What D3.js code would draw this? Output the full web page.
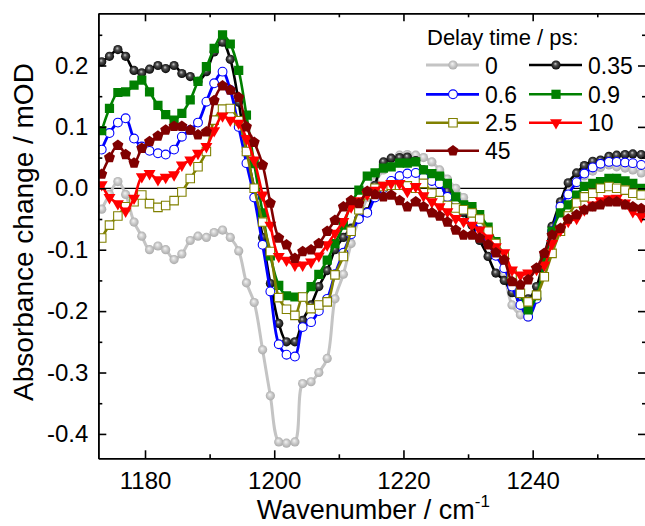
<!DOCTYPE html>
<html>
<head>
<meta charset="utf-8">
<script src="https://cdn.jsdelivr.net/npm/d3@7"></script>
<style>
  body { margin: 0; background: #fff; }
  text { font-family: Arial, "Liberation Sans", sans-serif; fill: #000; }
</style>
</head>
<body>
<div id="chart"></div>
<script>
// wavenumber grid (cm-1)
var wavenumber = [1173.3, 1174.5, 1175.8, 1177.0, 1178.3, 1179.5, 1180.7, 1182.0, 1183.2, 1184.5,
  1185.7, 1187.0, 1188.2, 1189.5, 1190.7, 1192.0, 1193.2, 1194.5, 1195.7, 1196.9,
  1198.2, 1199.4, 1200.7, 1201.9, 1203.2, 1204.4, 1205.7, 1206.9, 1208.2, 1209.4,
  1210.7, 1211.9, 1213.1, 1214.4, 1215.6, 1216.9, 1218.1, 1219.4, 1220.6, 1221.9,
  1223.1, 1224.4, 1225.6, 1226.8, 1228.1, 1229.3, 1230.6, 1231.8, 1233.1, 1234.3,
  1235.6, 1236.8, 1238.1, 1239.3, 1240.6, 1241.8, 1243.0, 1244.3, 1245.5, 1246.8,
  1248.0, 1249.3, 1250.5, 1251.8, 1253.0, 1254.3, 1255.5, 1256.8];

// absorbance change (mOD) per delay time
var d0 = [-0.034, -0.01, 0.011, -0.01, -0.055, -0.078, -0.1, -0.094, -0.1, -0.116,
  -0.107, -0.085, -0.078, -0.08, -0.072, -0.068, -0.08, -0.102, -0.154, -0.186,
  -0.263, -0.338, -0.413, -0.415, -0.413, -0.318, -0.315, -0.3, -0.277, -0.18,
  -0.14, -0.09, -0.05, -0.015, 0.01, 0.03, 0.045, 0.054, 0.055, 0.054,
  0.05, 0.043, 0.03, 0.015, 0.0, -0.015, -0.03, -0.05, -0.075, -0.1,
  -0.14, -0.19, -0.206, -0.21, -0.18, -0.12, -0.07, -0.03, -0.005, 0.01,
  0.02, 0.028, 0.034, 0.038, 0.035, 0.033, 0.03, 0.025];
var d035 = [0.206, 0.215, 0.226, 0.215, 0.192, 0.188, 0.194, 0.2, 0.195, 0.2,
  0.187, 0.182, 0.174, 0.19, 0.222, 0.238, 0.21, 0.14, 0.06, 0.0,
  -0.08, -0.155, -0.22, -0.25, -0.25, -0.215, -0.19, -0.16, -0.134, -0.1,
  -0.08, -0.065, -0.05, -0.038, 0.005, 0.043, 0.049, 0.05, 0.051, 0.045,
  0.03, 0.02, 0.01, -0.005, -0.02, -0.04, -0.06, -0.085, -0.111, -0.138,
  -0.15, -0.17, -0.18, -0.18, -0.16, -0.11, -0.062, -0.022, 0.009, 0.025,
  0.037, 0.044, 0.046, 0.052, 0.054, 0.055, 0.056, 0.055];
var d06 = [0.063, 0.09, 0.107, 0.114, 0.081, 0.068, 0.061, 0.057, 0.055, 0.063,
  0.084, 0.095, 0.107, 0.141, 0.171, 0.19, 0.16, 0.1, 0.041, -0.015,
  -0.092, -0.168, -0.254, -0.271, -0.274, -0.226, -0.218, -0.2, -0.18, -0.14,
  -0.105, -0.075, -0.05, -0.04, -0.015, 0.0, 0.012, 0.02, 0.024, 0.025,
  0.018, 0.012, 0.008, -0.014, -0.02, -0.035, -0.05, -0.07, -0.09, -0.11,
  -0.13, -0.16, -0.19, -0.209, -0.18, -0.12, -0.07, -0.03, -0.01, 0.01,
  0.024, 0.034, 0.04, 0.043, 0.043, 0.042, 0.041, 0.038];
var d09 = [0.094, 0.13, 0.156, 0.157, 0.168, 0.176, 0.157, 0.135, 0.12, 0.111,
  0.122, 0.144, 0.174, 0.198, 0.228, 0.25, 0.235, 0.192, 0.119, 0.04,
  -0.04, -0.11, -0.158, -0.175, -0.177, -0.177, -0.16, -0.14, -0.117, -0.09,
  -0.06, -0.025, -0.003, 0.02, 0.025, 0.033, 0.035, 0.041, 0.041, 0.043,
  0.03, 0.024, 0.02, 0.008, -0.014, -0.027, -0.03, -0.043, -0.063, -0.087,
  -0.11, -0.14, -0.171, -0.198, -0.175, -0.12, -0.07, -0.04, -0.027, -0.011,
  0.003, 0.008, 0.011, 0.016, 0.016, 0.012, 0.008, 0.0];
var d25 = [-0.081, -0.06, -0.045, -0.03, -0.022, -0.011, -0.025, -0.031, -0.028, -0.02,
  -0.006, 0.016, 0.035, 0.06, 0.111, 0.129, 0.13, 0.11, 0.06, 0.0,
  -0.055, -0.103, -0.178, -0.197, -0.207, -0.177, -0.196, -0.19, -0.185, -0.141,
  -0.111, -0.07, -0.035, -0.01, 0.0, 0.003, 0.005, 0.005, 0.004, 0.0,
  0.008, -0.008, -0.02, -0.028, -0.032, -0.035, -0.04, -0.05, -0.07, -0.09,
  -0.11, -0.14, -0.171, -0.185, -0.174, -0.144, -0.106, -0.07, -0.045, -0.024,
  -0.014, -0.008, 0.0, 0.003, 0.0, -0.003, -0.008, -0.011];
var d10 = [0.006, -0.015, -0.025, -0.037, -0.016, 0.019, 0.024, 0.014, 0.018, 0.022,
  0.038, 0.046, 0.057, 0.068, 0.094, 0.118, 0.111, 0.106, 0.081, 0.046,
  -0.011, -0.06, -0.111, -0.117, -0.125, -0.125, -0.12, -0.11, -0.092, -0.073,
  -0.054, -0.03, -0.02, -0.01, -0.003, 0.005, 0.008, 0.008, -0.005, 0.003,
  -0.012, -0.022, -0.03, -0.038, -0.049, -0.054, -0.06, -0.068, -0.081, -0.095,
  -0.105, -0.133, -0.141, -0.138, -0.132, -0.125, -0.09, -0.068, -0.054, -0.049,
  -0.035, -0.027, -0.02, -0.017, -0.016, -0.024, -0.038, -0.046];
var d45 = [0.023, 0.05, 0.07, 0.055, 0.041, 0.065, 0.076, 0.085, 0.095, 0.101,
  0.101, 0.095, 0.087, 0.092, 0.143, 0.167, 0.16, 0.148, 0.1, 0.075,
  0.038, -0.024, -0.081, -0.092, -0.114, -0.103, -0.1, -0.09, -0.07, -0.052,
  -0.03, -0.02, -0.025, -0.005, -0.01, -0.014, -0.011, -0.02, -0.03, -0.022,
  -0.03, -0.04, -0.045, -0.055, -0.068, -0.076, -0.076, -0.081, -0.092, -0.105,
  -0.117, -0.152, -0.157, -0.149, -0.13, -0.106, -0.076, -0.065, -0.05, -0.043,
  -0.035, -0.03, -0.027, -0.022, -0.022, -0.027, -0.03, -0.033];

var delayLabels = ["0", "0.35", "0.6", "0.9", "2.5", "10", "45"];
var xTicks = [1180, 1200, 1220, 1240];
var xMinorTicks = [1190, 1210, 1230, 1250];
var yTicks = [-0.4, -0.3, -0.2, -0.1, 0.0, 0.1, 0.2];
var yMinorTicks = [-0.35, -0.25, -0.15, -0.05, 0.05, 0.15, 0.25];

// plot styles, in legend order
var series = [
  {label: delayLabels[0], values: d0,   color: "#c4c4c4", marker: "ballGray", width: 3},
  {label: delayLabels[1], values: d035, color: "#000000", marker: "ballBlack", width: 2.6},
  {label: delayLabels[2], values: d06,  color: "#0000ff", marker: "openCircle", width: 2.8},
  {label: delayLabels[3], values: d09,  color: "#008000", marker: "square", width: 2.6},
  {label: delayLabels[4], values: d25,  color: "#808000", marker: "openSquare", width: 2.6},
  {label: delayLabels[5], values: d10,  color: "#ff0000", marker: "triangleDown", width: 2.6},
  {label: delayLabels[6], values: d45,  color: "#800000", marker: "pentagon", width: 2.6}
];

var W = 645, H = 526;
var margin = {top: 13.3, right: -1, bottom: 67.7, left: 98.3},
    width = W - margin.left - margin.right,
    height = H - margin.top - margin.bottom;

var x = d3.scaleLinear().domain([1172.77, 1257.54]).range([0, width]);
var y = d3.scaleLinear().domain([-0.4397, 0.285]).range([height, 0]);

var svg = d3.select("#chart").append("svg")
    .attr("width", W)
    .attr("height", H);

var defs = svg.append("defs");
defs.append("clipPath").attr("id", "plotClip")
  .append("rect").attr("x", 0).attr("y", 0).attr("width", width).attr("height", height);

function ballGradient(id, stops) {
  var g = defs.append("radialGradient").attr("id", id)
    .attr("cx", "50%").attr("cy", "50%").attr("r", "55%")
    .attr("fx", "42%").attr("fy", "35%");
  stops.forEach(function(s) {
    g.append("stop").attr("offset", s[0]).attr("stop-color", s[1]);
  });
}
ballGradient("gradGray", [["0%", "#f4f4f4"], ["55%", "#c6c6c6"], ["100%", "#a6a6a6"]]);
ballGradient("gradBlack", [["0%", "#d0d0d0"], ["35%", "#505050"], ["100%", "#000000"]]);

// pentagon symbol (size = area-ish)
var symbolPentagon = {
  draw: function(ctx, size) {
    var r = Math.sqrt(size / 2.378);
    for (var i = 0; i < 5; i++) {
      var a = -Math.PI / 2 + i * 2 * Math.PI / 5;
      if (i === 0) ctx.moveTo(r * Math.cos(a), r * Math.sin(a));
      else ctx.lineTo(r * Math.cos(a), r * Math.sin(a));
    }
    ctx.closePath();
  }
};

function drawMarker(sel, type, color) {
  if (type === "ballGray" || type === "ballBlack") {
    sel.append("circle").attr("r", 4.6)
      .attr("fill", type === "ballGray" ? "url(#gradGray)" : "url(#gradBlack)");
  } else if (type === "openCircle") {
    sel.append("circle").attr("r", 4.4)
      .attr("fill", "#fff").attr("stroke", color).attr("stroke-width", 1.1);
  } else if (type === "square") {
    sel.append("path").attr("d", d3.symbol().type(d3.symbolSquare).size(85)())
      .attr("fill", color);
  } else if (type === "openSquare") {
    sel.append("path").attr("d", d3.symbol().type(d3.symbolSquare).size(72)())
      .attr("fill", "#fff").attr("stroke", color).attr("stroke-width", 1.1);
  } else if (type === "triangleDown") {
    sel.append("path").attr("d", d3.symbol().type(d3.symbolTriangle).size(62)())
      .attr("transform", "rotate(180)")
      .attr("fill", color);
  } else if (type === "pentagon") {
    sel.append("path").attr("d", d3.symbol().type(symbolPentagon).size(80)())
      .attr("fill", color);
  }
}

var g = svg.append("g")
    .attr("transform", "translate(" + margin.left + "," + margin.top + ")");

// zero line
g.append("line")
  .attr("x1", 0).attr("x2", width)
  .attr("y1", y(0)).attr("y2", y(0))
  .attr("stroke", "#000").attr("stroke-width", 1.2);

var plot = g.append("g").attr("clip-path", "url(#plotClip)");

var line = d3.line()
  .x(function(d) { return x(d[0]); })
  .y(function(d) { return y(d[1]); })
  .curve(d3.curveCatmullRom.alpha(0.5));

series.forEach(function(s) {
  var pts = wavenumber.map(function(w, i) { return [w, s.values[i]]; });
  plot.append("path")
    .datum(pts)
    .attr("d", line)
    .attr("fill", "none")
    .attr("stroke", s.color)
    .attr("stroke-width", s.width)
    .attr("stroke-linejoin", "round");
  var m = plot.append("g").selectAll("g")
    .data(pts)
    .enter().append("g")
      .attr("transform", function(d) { return "translate(" + x(d[0]) + "," + y(d[1]) + ")"; });
  drawMarker(m, s.marker, s.color);
});

// axes
var fmt = function(d) { return d3.format(".1f")(d).replace("\u2212", "-"); };

function styleAxis(sel) {
  sel.selectAll("path").attr("stroke", "#000").attr("stroke-width", 1.6);
  sel.selectAll("line").attr("stroke", "#000").attr("stroke-width", 1.6);
  sel.selectAll("text").attr("font-size", 24).attr("fill", "#000")
    .attr("font-family", "Arial, 'Liberation Sans', sans-serif");
}

g.append("g")
  .attr("transform", "translate(0," + height + ")")
  .call(d3.axisBottom(x).tickValues(xTicks).tickSizeInner(-8).tickSizeOuter(0).tickPadding(14).tickFormat(d3.format("d")))
  .call(styleAxis);
g.append("g")
  .attr("transform", "translate(0," + height + ")")
  .call(d3.axisBottom(x).tickValues(xMinorTicks).tickSizeInner(-4).tickSizeOuter(0).tickFormat(""))
  .call(styleAxis);
g.append("g")
  .call(d3.axisTop(x).tickValues(xTicks).tickSizeInner(-8).tickSizeOuter(0).tickFormat(""))
  .call(styleAxis);
g.append("g")
  .call(d3.axisTop(x).tickValues(xMinorTicks).tickSizeInner(-4).tickSizeOuter(0).tickFormat(""))
  .call(styleAxis);

g.append("g")
  .call(d3.axisLeft(y).tickValues(yTicks).tickSizeInner(-8).tickSizeOuter(0).tickPadding(10).tickFormat(fmt))
  .call(styleAxis);
g.append("g")
  .call(d3.axisLeft(y).tickValues(yMinorTicks).tickSizeInner(-4).tickSizeOuter(0).tickFormat(""))
  .call(styleAxis);
g.append("g")
  .attr("transform", "translate(" + width + ",0)")
  .call(d3.axisRight(y).tickValues(yTicks).tickSizeInner(-8).tickSizeOuter(0).tickFormat(""))
  .call(styleAxis);
g.append("g")
  .attr("transform", "translate(" + width + ",0)")
  .call(d3.axisRight(y).tickValues(yMinorTicks).tickSizeInner(-4).tickSizeOuter(0).tickFormat(""))
  .call(styleAxis);

// axis titles
g.append("text")
  .attr("transform", "translate(" + (33 - margin.left) + "," + (232 - margin.top) + ") rotate(-90)")
  .attr("text-anchor", "middle")
  .attr("font-size", 28)
  .text("Absorbance change / mOD");

var xt = g.append("text")
  .attr("x", 256.7 - margin.left)
  .attr("y", 519 - margin.top)
  .attr("font-size", 27)
  .text("Wavenumber / cm");
xt.append("tspan").attr("font-size", 17).attr("dy", -12).text("-1");

// legend
var legend = svg.append("g");
legend.append("text")
  .attr("x", 427).attr("y", 45)
  .attr("font-size", 22)
  .text("Delay time / ps:");

var legCols = [426, 529], legRows = [65, 94.3, 122.7, 150.7];
series.forEach(function(s, i) {
  var lx = legCols[i % 2], ly = legRows[Math.floor(i / 2)];
  var item = legend.append("g");
  item.append("line")
    .attr("x1", lx).attr("x2", lx + 53)
    .attr("y1", ly).attr("y2", ly)
    .attr("stroke", s.color).attr("stroke-width", s.width);
  var mk = item.append("g").attr("transform", "translate(" + (lx + 27) + "," + ly + ")");
  drawMarker(mk, s.marker, s.color);
  item.append("text")
    .attr("x", lx + 59).attr("y", ly + 8.5)
    .attr("font-size", 23)
    .text(s.label);
});
</script>
</body>
</html>
